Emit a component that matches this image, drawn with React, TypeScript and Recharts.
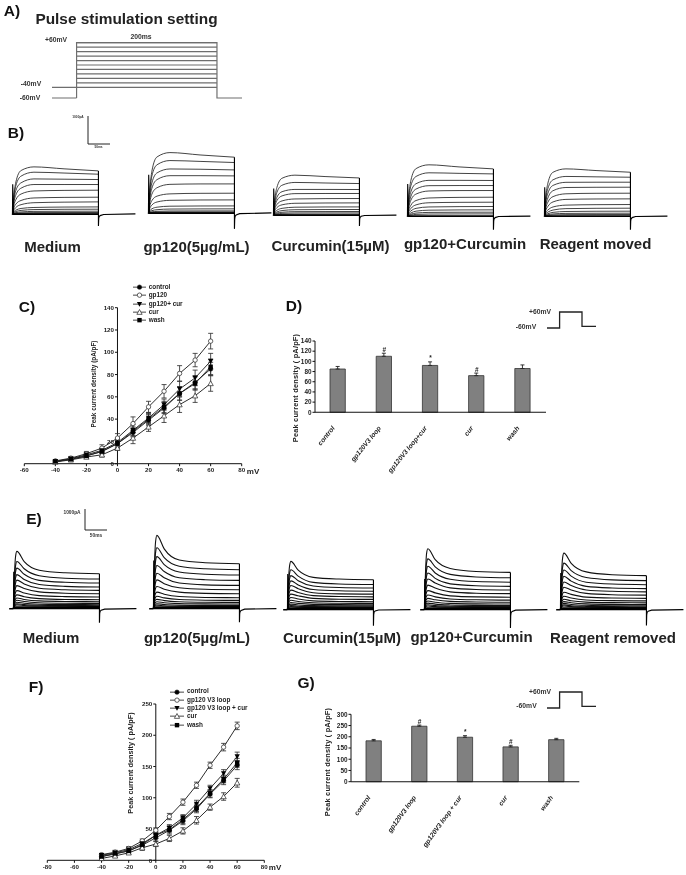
import React from "react";
import {
  ComposedChart, LineChart, Line, Bar, XAxis, YAxis, ErrorBar, Legend, LabelList,
} from "recharts";

const FONT = "'Liberation Sans', Arial, sans-serif";

// ---------- IV curves (panel C) ----------
const VOLTAGES = [-40, -30, -20, -10, 0, 10, 20, 30, 40, 50, 60];
const C_CONTROL = [2, 4, 7, 11, 18, 28, 39, 50, 63, 73, 85];
const C_CONTROL_ERR = [1, 1, 2, 2, 4, 4, 5, 5, 6, 6, 6];
const C_GP120 = [2.5, 5, 9, 14, 23, 36, 51, 65, 81, 93, 110];
const C_GP120_ERR = [1, 1.5, 2, 3, 4, 6, 5, 6, 7, 6, 7];
const C_COMBO = [2, 4.5, 8, 12, 19, 30, 41, 53, 67, 77, 92];
const C_COMBO_ERR = [1, 1, 2, 2, 4, 5, 5, 5, 7, 7, 7];
const C_CUR = [1.5, 3.5, 6, 8, 14, 23, 33, 43, 53, 61, 72];
const C_CUR_ERR = [0.5, 1, 1, 2, 2, 5, 4, 6, 7, 6, 7];
const C_WASH = [2, 4, 7, 11, 18, 29, 40, 51, 63, 72, 87];
const C_WASH_ERR = [1, 1, 1.5, 2, 4, 4, 5, 5, 6, 6, 7];

// ---------- IV curves (panel F) ----------
const F_CONTROL = [6, 10, 15, 24, 36, 48, 63, 82, 106, 127, 152];
const F_CONTROL_ERR = [3, 3, 3, 4, 5, 6, 6, 6, 6, 6, 7];
const F_GP120 = [9, 13, 19, 31, 48, 70, 93, 120, 152, 181, 215];
const F_GP120_ERR = [2, 3, 3, 3, 4, 5, 5, 5, 5, 6, 6];
const F_COMBO = [8, 12, 17, 27, 40, 52, 68, 90, 115, 139, 166];
const F_COMBO_ERR = [3, 3, 3, 4, 5, 5, 5, 6, 5, 6, 7];
const F_CUR = [3, 7, 12, 20, 26, 35, 47, 64, 85, 102, 124];
const F_CUR_ERR = [2, 2, 2, 4, 4, 5, 5, 6, 5, 6, 7];
const F_WASH = [6, 11, 15, 25, 40, 49, 65, 84, 107, 130, 156];
const F_WASH_ERR = [3, 3, 3, 4, 5, 5, 6, 6, 6, 6, 7];

// ---------- bar panels ----------
const D_LABELS = ["control", "gp120V3 loop", "gp120V3 loop+cur", "cur", "wash"];
const D_VALUES = [85, 110, 92, 72, 86];
const D_ERRORS = [5, 6, 7, 5, 7];
const D_MARKS = ["", "#", "*", "#", ""];
const G_LABELS = ["control", "gp120V3 loop", "gp120V3 loop + cur", "cur", "wash"];
const G_VALUES = [182, 247, 198, 155, 187];
const G_ERRORS = [6, 5, 7, 7, 6];
const G_MARKS = ["", "#", "*", "#", ""];

// ---------- pulse protocol ----------
const STEP_LEVELS = [60, 50, 40, 30, 20, 10, 0, -10, -20, -30, -40];
const ENVELOPE = [
  { t: 0, mv: -64 }, { t: 0, mv: 60 }, { t: 200, mv: 60 }, { t: 200, mv: -64 }, { t: 236, mv: -64 },
];
const PRE_HOLD = [{ t: -35, mv: -64 }, { t: 0, mv: -64 }];
const PRE_STEP = [{ t: -35, mv: -40 }, { t: 0, mv: -40 }];
const MINI_PULSE = [
  { t: 0, mv: -60 }, { t: 18, mv: -60 }, { t: 18, mv: 60 }, { t: 50, mv: 60 }, { t: 50, mv: -48 }, { t: 70, mv: -48 },
];

// ---------- current traces, pA against ms ----------
const TB = [0, 3, 8, 20, 50, 120, 200];
const TE = [0, 2, 5, 8, 25, 60, 120, 200];
const TAIL_T = [200, 200, 200.6, 201.5, 204, 212, 286];

const B_MEDIUM = [
  [0, 600, 1150, 1560, 1690, 1620, 1547],
  [0, 550, 1020, 1360, 1500, 1470, 1428],
  [0, 470, 850, 1120, 1260, 1250, 1238],
  [0, 390, 690, 930, 1060, 1060, 1060],
  [0, 300, 520, 720, 830, 850, 857],
  [0, 210, 360, 490, 580, 600, 607],
  [0, 140, 240, 340, 410, 430, 440],
  [0, 90, 145, 205, 240, 255, 260],
  [0, 60, 95, 135, 165, 175, 178],
  [0, 35, 55, 80, 100, 105, 107],
  [0, 20, 32, 46, 55, 58, 60],
  [0, 12, 18, 26, 32, 35, 36],
];
const B_GP120 = [
  [0, 780, 1500, 2010, 2165, 2080, 2000],
  [0, 700, 1330, 1730, 1880, 1850, 1810],
  [0, 570, 1080, 1440, 1580, 1570, 1546],
  [0, 480, 890, 1200, 1340, 1340, 1332],
  [0, 370, 680, 910, 1030, 1045, 1046],
  [0, 250, 450, 610, 690, 710, 714],
  [0, 165, 290, 400, 460, 472, 475],
  [0, 90, 155, 215, 250, 258, 260],
  [0, 55, 90, 125, 148, 153, 155],
  [0, 30, 48, 66, 78, 81, 82],
  [0, 16, 28, 37, 44, 45, 46],
  [0, 9, 15, 20, 23, 24, 25],
];
const B_CUR = [
  [0, 540, 990, 1320, 1430, 1380, 1330],
  [0, 450, 810, 1070, 1170, 1150, 1130],
  [0, 350, 640, 840, 920, 920, 917],
  [0, 290, 520, 690, 770, 775, 775],
  [0, 220, 380, 510, 580, 592, 596],
  [0, 155, 270, 370, 425, 436, 440],
  [0, 105, 175, 245, 285, 294, 296],
  [0, 70, 115, 165, 195, 201, 203],
  [0, 45, 75, 105, 126, 130, 132],
  [0, 27, 45, 66, 78, 81, 82],
  [0, 12, 20, 28, 34, 35, 36],
];
const B_COMBO = [
  [0, 690, 1280, 1700, 1835, 1760, 1690],
  [0, 590, 1090, 1420, 1550, 1530, 1510],
  [0, 470, 870, 1160, 1280, 1280, 1275],
  [0, 390, 710, 970, 1090, 1095, 1095],
  [0, 310, 570, 790, 900, 915, 917],
  [0, 220, 390, 560, 650, 672, 678],
  [0, 155, 275, 405, 480, 495, 500],
  [0, 105, 185, 280, 330, 342, 346],
  [0, 65, 115, 180, 215, 224, 226],
  [0, 40, 70, 112, 135, 141, 143],
  [0, 22, 40, 64, 77, 81, 82],
];
const B_WASH = [
  [0, 650, 1180, 1570, 1690, 1630, 1570],
  [0, 560, 990, 1300, 1420, 1405, 1392],
  [0, 470, 820, 1100, 1210, 1214, 1214],
  [0, 370, 650, 910, 1025, 1033, 1035],
  [0, 280, 500, 700, 800, 818, 821],
  [0, 200, 350, 510, 600, 615, 619],
  [0, 130, 220, 330, 395, 412, 417],
  [0, 85, 145, 220, 270, 282, 286],
  [0, 52, 88, 137, 168, 177, 179],
  [0, 30, 52, 80, 100, 105, 107],
  [0, 17, 30, 45, 56, 59, 60],
];
const E_MEDIUM = [
  [0, 1400, 2500, 2730, 2240, 1830, 1710, 1666],
  [0, 1150, 2050, 2250, 1900, 1570, 1450, 1413],
  [0, 1000, 1760, 1930, 1640, 1350, 1260, 1223],
  [0, 850, 1480, 1620, 1390, 1150, 1065, 1033],
  [0, 720, 1230, 1360, 1180, 970, 900, 871],
  [0, 600, 1000, 1100, 960, 800, 735, 714],
  [0, 480, 780, 860, 750, 620, 575, 557],
  [0, 380, 610, 660, 570, 480, 440, 428],
  [0, 300, 470, 510, 440, 370, 342, 333],
  [0, 240, 370, 400, 340, 285, 260, 252],
  [0, 190, 290, 310, 260, 215, 197, 190],
  [0, 150, 220, 235, 195, 165, 150, 143],
  [0, 120, 170, 180, 150, 125, 115, 110],
];
const E_GP120 = [
  [0, 1800, 3200, 3490, 2850, 2320, 2190, 2140],
  [0, 1500, 2680, 2900, 2430, 2020, 1900, 1857],
  [0, 1280, 2280, 2480, 2100, 1750, 1640, 1603],
  [0, 1080, 1900, 2060, 1770, 1470, 1380, 1348],
  [0, 900, 1550, 1690, 1470, 1220, 1135, 1110],
  [0, 750, 1260, 1370, 1190, 995, 925, 905],
  [0, 600, 980, 1060, 930, 790, 730, 714],
  [0, 460, 730, 790, 690, 580, 535, 524],
  [0, 350, 550, 590, 515, 435, 405, 395],
  [0, 270, 420, 445, 385, 330, 305, 300],
  [0, 210, 310, 330, 285, 245, 228, 224],
  [0, 150, 220, 235, 200, 172, 160, 157],
  [0, 110, 160, 170, 140, 120, 112, 110],
];
const E_CUR = [
  [0, 1180, 2100, 2300, 1880, 1540, 1460, 1428],
  [0, 980, 1740, 1900, 1600, 1300, 1225, 1200],
  [0, 850, 1480, 1620, 1380, 1130, 1055, 1030],
  [0, 730, 1260, 1370, 1180, 960, 900, 880],
  [0, 620, 1060, 1150, 1000, 810, 755, 740],
  [0, 520, 860, 930, 820, 670, 625, 610],
  [0, 430, 690, 740, 660, 540, 500, 490],
  [0, 340, 540, 580, 510, 420, 390, 380],
  [0, 270, 420, 450, 390, 330, 305, 300],
  [0, 215, 325, 345, 300, 255, 240, 235],
  [0, 170, 250, 265, 225, 195, 183, 180],
  [0, 130, 190, 200, 165, 145, 137, 135],
  [0, 100, 140, 150, 122, 108, 102, 100],
];
const E_COMBO = [
  [0, 1500, 2680, 2900, 2380, 1960, 1820, 1777],
  [0, 1260, 2230, 2420, 2040, 1680, 1560, 1520],
  [0, 1080, 1900, 2070, 1750, 1450, 1340, 1310],
  [0, 920, 1610, 1750, 1490, 1230, 1140, 1110],
  [0, 780, 1340, 1460, 1270, 1040, 965, 940],
  [0, 640, 1070, 1170, 1030, 850, 785, 765],
  [0, 520, 840, 910, 800, 660, 610, 595],
  [0, 410, 650, 700, 610, 510, 470, 455],
  [0, 320, 500, 540, 470, 395, 365, 355],
  [0, 250, 390, 415, 355, 300, 275, 268],
  [0, 195, 295, 315, 265, 225, 205, 198],
  [0, 150, 220, 235, 195, 165, 152, 148],
  [0, 115, 165, 175, 145, 122, 112, 108],
];
const E_WASH = [
  [0, 1380, 2470, 2695, 2210, 1800, 1665, 1620],
  [0, 1140, 2030, 2220, 1860, 1530, 1420, 1385],
  [0, 980, 1730, 1890, 1600, 1310, 1220, 1190],
  [0, 830, 1450, 1590, 1360, 1110, 1035, 1005],
  [0, 700, 1200, 1320, 1150, 940, 875, 850],
  [0, 580, 970, 1070, 935, 775, 715, 695],
  [0, 470, 760, 830, 730, 600, 555, 540],
  [0, 370, 590, 640, 555, 465, 430, 418],
  [0, 290, 455, 495, 425, 360, 335, 325],
  [0, 235, 360, 385, 330, 275, 252, 245],
  [0, 185, 280, 300, 250, 208, 190, 185],
  [0, 145, 215, 228, 188, 160, 145, 140],
  [0, 115, 165, 175, 145, 120, 110, 105],
];

const B_TAILS = [
  [1547, -418, -150, -90, -50, -10, 10],
  [2000, -560, -210, -110, -60, -15, 10],
  [1330, -385, -130, -80, -40, -10, 0],
  [1690, -480, -170, -100, -50, -10, 0],
  [1570, -480, -170, -100, -50, -10, 0],
];
const E_TAILS = [
  [1666, -667, -230, -130, -70, -20, 0],
  [2140, -640, -240, -140, -80, -20, 0],
  [1428, -760, -240, -120, -60, -15, 0],
  [1777, -876, -280, -140, -80, -20, 0],
  [1620, -750, -250, -130, -70, -20, 0],
];
const B_SPIKES = [1070, 1370, 950, 1150, 1030];
const E_SPIKES = [1760, 2290, 1700, 1460, 1750];
const B_STARTS = [12, 148, 273, 407.3, 544];
const B_BASE = [214, 213.3, 215, 215.7, 215.7];
const E_STARTS = [13.3, 153.7, 287.3, 424.7, 560.7];
const E_BASE = [609, 608.3, 610, 609.3, 609.3];
const B_TABLES = [B_MEDIUM, B_GP120, B_CUR, B_COMBO, B_WASH];
const E_TABLES = [E_MEDIUM, E_GP120, E_CUR, E_COMBO, E_WASH];
const SCALE_BAR = [{ t: 0, i: 1000 }, { t: 0, i: 0 }, { t: 50, i: 0 }];

const pairs = (ts: number[], vs: number[]) => ts.map((t, k) => ({ t, i: vs[k] }));

const Txt = ({ x, y, size, children, rot = 0, bold = true, color = "#111", spacing = 0 }: any) => (
  <div
    style={{
      position: "absolute", left: x, top: y, fontSize: size, fontWeight: bold ? 700 : 400, color,
      fontFamily: FONT, whiteSpace: "nowrap", lineHeight: 1, letterSpacing: spacing,
      transform: `translate(-50%,-50%) rotate(${rot}deg)`,
    }}
  >
    {children}
  </div>
);

const Traces = ({ left, base, table, times, tail, spike, pxPerPA, hi, lo, pre, stroke, sw, floorW, floorV }: any) => {
  const pxPerMs = 0.43;
  const tMin = -15;
  const tMax = 290;
  const width = (tMax - tMin) * pxPerMs;
  const height = (hi - lo) * pxPerPA;
  const hold = [{ t: pre, i: 0 }, { t: 0, i: 0 }];
  const floor = [{ t: 0, i: floorV }, { t: 200, i: floorV }];
  const spikeRows = [{ t: 0, i: 0 }, { t: 0.6, i: spike }, { t: 1.6, i: spike * 0.6 }, { t: 2.4, i: 0 }];
  return (
    <div style={{ position: "absolute", left: left + tMin * pxPerMs, top: base - hi * pxPerPA }}>
      <LineChart width={width} height={height} margin={{ top: 0, right: 0, bottom: 0, left: 0 }}>
        <XAxis dataKey="t" type="number" domain={[tMin, tMax]} hide allowDataOverflow />
        <YAxis type="number" domain={[lo, hi]} hide allowDataOverflow />
        {pre < 0 && <Line data={hold} dataKey="i" stroke="#000" strokeWidth={1.6} dot={false} isAnimationActive={false} />}
        {table.map((vals: number[], k: number) => (
          <Line key={k} data={pairs(times, vals)} dataKey="i" type="monotone" stroke={stroke} strokeWidth={sw}
            dot={false} isAnimationActive={false} />
        ))}
        <Line data={floor} dataKey="i" stroke="#000" strokeWidth={floorW} dot={false} isAnimationActive={false} />
        <Line data={spikeRows} dataKey="i" stroke="#000" strokeWidth={1.1} dot={false} isAnimationActive={false} />
        <Line data={pairs(TAIL_T, tail)} dataKey="i" stroke="#000" strokeWidth={1.15} dot={false} isAnimationActive={false} />
      </LineChart>
    </div>
  );
};

const ScaleBar = ({ left, top, pxPerPA, sw = 1 }: any) => (
  <div style={{ position: "absolute", left: left - 1, top: top - 1 }}>
    <LineChart width={24} height={1000 * pxPerPA + 2} margin={{ top: 1, right: 1, bottom: 1, left: 1 }}>
      <XAxis dataKey="t" type="number" domain={[0, 50]} hide />
      <YAxis type="number" domain={[0, 1000]} hide />
      <Line data={SCALE_BAR} dataKey="i" stroke="#222" strokeWidth={sw} dot={false} isAnimationActive={false} />
    </LineChart>
  </div>
);

const MiniPulse = ({ left, top }: any) => (
  <div style={{ position: "absolute", left, top }}>
    <LineChart width={49} height={18} margin={{ top: 1, right: 0, bottom: 1, left: 0 }}>
      <XAxis dataKey="t" type="number" domain={[0, 70]} hide />
      <YAxis type="number" domain={[-60, 60]} hide />
      <Line data={MINI_PULSE} dataKey="mv" stroke="#222" strokeWidth={1.3} dot={false} isAnimationActive={false} />
    </LineChart>
  </div>
);

const Protocol = () => {
  const pxPerMs = 0.702;
  const top = 40;
  const bottom = 102;
  const pxPerMv = 0.446;
  const hi = 60 + (42.7 - top) / pxPerMv;
  const lo = 60 - (bottom - 42.7) / pxPerMv;
  const tMin = -35;
  const tMax = 236;
  const rows = (lvl: number) => [{ t: 0, mv: lvl }, { t: 200, mv: lvl }];
  return (
    <div style={{ position: "absolute", left: 76.3 + tMin * pxPerMs, top }}>
      <LineChart width={(tMax - tMin) * pxPerMs} height={bottom - top} margin={{ top: 0, right: 0, bottom: 0, left: 0 }}>
        <XAxis dataKey="t" type="number" domain={[tMin, tMax]} hide />
        <YAxis type="number" domain={[lo, hi]} hide allowDataOverflow />
        {STEP_LEVELS.map((l) => (
          <Line key={l} data={rows(l)} dataKey="mv" stroke="#6e6e6e" strokeWidth={1.2} dot={false} isAnimationActive={false} />
        ))}
        <Line data={PRE_STEP} dataKey="mv" stroke="#6e6e6e" strokeWidth={1.2} dot={false} isAnimationActive={false} />
        <Line data={PRE_HOLD} dataKey="mv" stroke="#6e6e6e" strokeWidth={1.2} dot={false} isAnimationActive={false} />
        <Line data={ENVELOPE} dataKey="mv" stroke="#6e6e6e" strokeWidth={1.2} dot={false} isAnimationActive={false} />
      </LineChart>
    </div>
  );
};

const makeDot = (kind: string, r: number) => (p: any) => {
  const { cx, cy } = p;
  const key = `${kind}-${cx}`;
  if (cx == null || cy == null) return <g key={key} />;
  const stroke = "#222";
  if (kind === "fc") return <circle key={key} cx={cx} cy={cy} r={r} fill="#000" stroke={stroke} strokeWidth={0.6} />;
  if (kind === "oc") return <circle key={key} cx={cx} cy={cy} r={r} fill="#fff" stroke={stroke} strokeWidth={0.7} />;
  if (kind === "ft")
    return <path key={key} d={`M${cx - r * 1.2} ${cy - r}L${cx + r * 1.2} ${cy - r}L${cx} ${cy + r * 1.2}Z`} fill="#000" />;
  if (kind === "ot")
    return <path key={key} d={`M${cx - r * 1.2} ${cy + r}L${cx + r * 1.2} ${cy + r}L${cx} ${cy - r * 1.2}Z`} fill="#fff" stroke={stroke} strokeWidth={0.7} />;
  return <rect key={key} x={cx - r} y={cy - r} width={2 * r} height={2 * r} fill="#000" />;
};

const SERIES_KEYS = ["control", "gp120", "combo", "cur", "wash"];
const SERIES_DOTS = ["fc", "oc", "ft", "ot", "fs"];
const C_NAMES = ["control", "gp120", "gp120+ cur", "cur", "wash"];
const F_NAMES = ["control", "gp120 V3 loop", "gp120 V3 loop + cur", "cur", "wash"];

const ivTable = (cols: number[][], errs: number[][]) =>
  VOLTAGES.map((v, k) => {
    const row: any = { v };
    SERIES_KEYS.forEach((s, j) => {
      row[s] = cols[j][k];
      row[s + "Err"] = errs[j][k];
    });
    return row;
  });

const IVPanel = ({ box, plot, xDomain, xTicks, yMax, yTicks, names, cols, errs, legend, r, cap }: any) => {
  const data = ivTable(cols, errs);
  const margin = {
    left: plot.l - box.l,
    right: box.l + box.w - plot.r,
    top: plot.t - box.t,
    bottom: box.t + box.h - plot.b,
  };
  const tick = { fontSize: 6.2, fontWeight: 700, fill: "#222", fontFamily: FONT };
  const x0 = plot.l + ((0 - xDomain[0]) / (xDomain[1] - xDomain[0])) * (plot.r - plot.l);
  const pos: any = { position: "absolute", left: box.l, top: box.t };
  return (
    <>
      <div style={pos}>
        <ComposedChart width={box.w} height={box.h} data={data}
          margin={{ left: x0 - box.l - 20, right: margin.right, top: margin.top, bottom: margin.bottom }}>
          <XAxis dataKey="v" type="number" domain={xDomain} hide />
          <YAxis width={20} type="number" domain={[0, yMax]} ticks={yTicks} tick={tick} tickSize={2.5} tickMargin={1}
            axisLine={{ stroke: "#111", strokeWidth: 1 }} tickLine={{ stroke: "#111" }} interval={0} />
          <Line dataKey="control" stroke="none" dot={false} activeDot={false} isAnimationActive={false} />
        </ComposedChart>
      </div>
      <div style={pos}>
        <ComposedChart width={box.w} height={box.h} data={data}
          margin={{ left: margin.left, right: margin.right, top: margin.top, bottom: 0 }}>
          <XAxis dataKey="v" type="number" domain={xDomain} ticks={xTicks} height={margin.bottom} tick={tick} tickSize={2.5}
            tickMargin={1.5} axisLine={{ stroke: "#111", strokeWidth: 1 }} tickLine={{ stroke: "#111" }} interval={0} />
          <YAxis type="number" domain={[0, yMax]} hide />
          {SERIES_KEYS.map((s, j) => (
            <Line key={s} dataKey={s} name={names[j]} stroke="#222" strokeWidth={0.95} isAnimationActive={false}
              dot={makeDot(SERIES_DOTS[j], r)} activeDot={false}>
              <ErrorBar dataKey={s + "Err"} width={cap} stroke="#333" strokeWidth={0.85} direction="y" isAnimationActive={false} />
            </Line>
          ))}
          <Legend layout="vertical" align="center" verticalAlign="middle" itemSorter={null as any}
            wrapperStyle={{ left: legend.x - box.l, top: legend.y - box.t, width: 100, margin: 0, padding: 0 }}
            content={(props: any) => (
              <div>
                {(props.payload || []).map((e: any, j: number) => {
                  const Dot = makeDot(SERIES_DOTS[j], r);
                  return (
                    <div key={j} style={{ height: legend.row, display: "flex", alignItems: "center" }}>
                      <svg width={legend.lw} height={legend.row} style={{ overflow: "visible", flex: "none" }}>
                        <line x1={0} x2={legend.lw} y1={legend.row / 2} y2={legend.row / 2} stroke="#333" strokeWidth={0.9} />
                        {Dot({ cx: legend.lw / 2, cy: legend.row / 2 })}
                      </svg>
                      <span style={{ marginLeft: 3, fontSize: 6.4, fontWeight: 700, fontFamily: FONT, color: "#222", whiteSpace: "nowrap", lineHeight: 1 }}>
                        {e.value}
                      </span>
                    </div>
                  );
                })}
              </div>
            )} />
        </ComposedChart>
      </div>
    </>
  );
};

const makeRotTick = (angle: number) => ({ x, y, payload }: any) => (
  <text x={x - 3} y={y + 8} transform={`rotate(${angle} ${x - 3} ${y + 8})`} textAnchor="end" fontSize={6.7} fontWeight={700}
    fill="#222" fontFamily={FONT} fontStyle="italic">
    {payload.value}
  </text>
);

const BAR_EDGES = [0, 1, 2, 3, 4, 5];
const EDGE_ROWS = [{ e: 0 }, { e: 5 }];

const BarPanel = ({ box, plot, labels, values, errors, marks, yMax, yTicks, angle }: any) => {
  const data = labels.map((name: string, k: number) => ({
    name, value: values[k], err: errors[k], top: values[k] + errors[k], mark: marks[k],
  }));
  const left = plot.l - box.l;
  const right = box.l + box.w - plot.r;
  const top = plot.t - box.t;
  const bottom = box.t + box.h - plot.b;
  const pos: any = { position: "absolute", left: box.l, top: box.t };
  const RotTick = makeRotTick(angle);
  return (
    <>
      <div style={pos}>
        <ComposedChart width={box.w} height={box.h} data={EDGE_ROWS} margin={{ left, right, top, bottom: bottom - 4 }}>
          <XAxis dataKey="e" type="number" domain={[0, 5]} ticks={BAR_EDGES} height={4} tick={false} tickSize={2.5}
            axisLine={false} tickLine={{ stroke: "#111" }} interval={0} />
          <YAxis type="number" domain={[0, 1]} hide />
          <Line dataKey="e" stroke="none" dot={false} activeDot={false} isAnimationActive={false} />
        </ComposedChart>
      </div>
      <div style={pos}>
        <ComposedChart width={box.w} height={box.h} data={data} margin={{ left: left - 22, right, top, bottom: 0 }}>
          <XAxis dataKey="name" height={bottom} interval={0} tickLine={false} tick={<RotTick />}
            axisLine={{ stroke: "#111", strokeWidth: 1.1 }} />
          <YAxis width={22} type="number" domain={[0, yMax]} ticks={yTicks} interval={0} tickSize={2.5} tickMargin={1}
            tick={{ fontSize: 6.4, fontWeight: 700, fill: "#222", fontFamily: FONT }}
            axisLine={{ stroke: "#111", strokeWidth: 1 }} tickLine={{ stroke: "#111" }} />
          <Bar dataKey="value" barSize={15.3} fill="#808080" stroke="#333" strokeWidth={0.8} isAnimationActive={false}>
            <ErrorBar dataKey={(d: any) => [0, d.err]} width={2} stroke="#222" strokeWidth={0.9} direction="y" isAnimationActive={false} />
          </Bar>
          <Line dataKey="top" stroke="none" dot={false} activeDot={false} isAnimationActive={false}>
            <LabelList dataKey="mark" position="top" offset={1.5} fontSize={6.5} fontWeight={700} fill="#222" fontFamily={FONT} />
          </Line>
        </ComposedChart>
      </div>
    </>
  );
};

export default function App() {
  return (
    <div style={{ position: "absolute", left: 0, top: 0, width: 686, height: 875, background: "#fff", overflow: "hidden", fontFamily: FONT, filter: "blur(0.3px)" }}>
      {/* Panel letters */}
      <Txt x={12} y={11} size={15.5}>A)</Txt>
      <Txt x={16} y={133} size={15.5}>B)</Txt>
      <Txt x={27} y={307} size={15.5}>C)</Txt>
      <Txt x={294} y={306} size={15.5}>D)</Txt>
      <Txt x={34} y={519} size={15.5}>E)</Txt>
      <Txt x={36} y={687} size={15.5}>F)</Txt>
      <Txt x={306} y={683} size={15.5}>G)</Txt>

      {/* A */}
      <Txt x={126.5} y={19} size={15.4} color="#222">Pulse stimulation setting</Txt>
      <Protocol />
      <Txt x={56} y={40} size={6.8} color="#333">+60mV</Txt>
      <Txt x={141} y={37} size={6.8} color="#333">200ms</Txt>
      <Txt x={31} y={84} size={6.8} color="#333">-40mV</Txt>
      <Txt x={30} y={98} size={6.8} color="#333">-60mV</Txt>

      {/* B */}
      <ScaleBar left={87.7} top={116} pxPerPA={0.028} />
      <Txt x={78} y={118} size={3.2} color="#333">1000pA</Txt>
      <Txt x={98.5} y={148} size={3.2} color="#333">50ms</Txt>
      {B_TABLES.map((table, k) => (
        <Traces key={k} left={B_STARTS[k]} base={B_BASE[k]} table={table} times={TB} tail={B_TAILS[k]} spike={B_SPIKES[k]}
          pxPerPA={0.028} hi={2400} lo={-800} pre={0} stroke="#222" sw={0.85} floorW={1.8} floorV={0} />
      ))}
      <Txt x={52.5} y={246} size={15} color="#222">Medium</Txt>
      <Txt x={196.5} y={246} size={15} color="#222">gp120(5µg/mL)</Txt>
      <Txt x={330.5} y={245} size={15} color="#222">Curcumin(15µM)</Txt>
      <Txt x={465} y={243} size={15} color="#222">gp120+Curcumin</Txt>
      <Txt x={595.5} y={243} size={15} color="#222">Reagent moved</Txt>

      {/* C */}
      <IVPanel box={{ l: 0, t: 280, w: 260, h: 200 }} plot={{ l: 24.3, r: 241.7, t: 307.7, b: 463.7 }}
        xDomain={[-60, 80]} xTicks={[-60, -40, -20, 0, 20, 40, 60, 80]} yMax={140}
        yTicks={[0, 20, 40, 60, 80, 100, 120, 140]} names={C_NAMES}
        cols={[C_CONTROL, C_GP120, C_COMBO, C_CUR, C_WASH]}
        errs={[C_CONTROL_ERR, C_GP120_ERR, C_COMBO_ERR, C_CUR_ERR, C_WASH_ERR]}
        legend={{ x: 132.7, y: 283, row: 8.3, lw: 13 }} r={2.2} cap={2.5} />
      <Txt x={93.5} y={384} size={6.4} rot={-90} color="#222">Peak current density (pA/pF)</Txt>
      <Txt x={253} y={472} size={8} color="#222">mV</Txt>

      {/* D */}
      <BarPanel box={{ l: 280, t: 330, w: 290, h: 160 }} plot={{ l: 315, r: 546, t: 341, b: 412.3 }} angle={-51}
        labels={D_LABELS} values={D_VALUES} errors={D_ERRORS} marks={D_MARKS} yMax={140}
        yTicks={[0, 20, 40, 60, 80, 100, 120, 140]} />
      <Txt x={296} y={388} size={7.4} rot={-90} color="#222" spacing={0.2}>Peak current density ( pA/pF)</Txt>
      <MiniPulse left={546.7} top={311} />
      <Txt x={540} y={312} size={6.8} color="#333">+60mV</Txt>
      <Txt x={526} y={327} size={6.8} color="#333">-60mV</Txt>

      {/* E */}
      <ScaleBar left={85.3} top={509} pxPerPA={0.021} />
      <Txt x={72} y={513} size={4.8} color="#333">1000pA</Txt>
      <Txt x={96} y={536} size={4.8} color="#333">50ms</Txt>
      {E_TABLES.map((table, k) => (
        <Traces key={k} left={E_STARTS[k]} base={E_BASE[k]} table={table} times={TE} tail={E_TAILS[k]} spike={E_SPIKES[k]}
          pxPerPA={0.021} hi={3700} lo={-1000} pre={-10} stroke="#111" sw={1.1} floorW={3} floorV={45} />
      ))}
      <Txt x={51} y={637} size={15} color="#222">Medium</Txt>
      <Txt x={197} y={637} size={15} color="#222">gp120(5µg/mL)</Txt>
      <Txt x={342} y={637} size={15} color="#222">Curcumin(15µM)</Txt>
      <Txt x={471.5} y={636} size={15} color="#222">gp120+Curcumin</Txt>
      <Txt x={613} y={637} size={15} color="#222">Reagent removed</Txt>

      {/* F */}
      <IVPanel box={{ l: 0, t: 690, w: 290, h: 185 }} plot={{ l: 47.3, r: 264.3, t: 704, b: 860.3 }}
        xDomain={[-80, 80]} xTicks={[-80, -60, -40, -20, 0, 20, 40, 60, 80]} yMax={250}
        yTicks={[0, 50, 100, 150, 200, 250]} names={F_NAMES}
        cols={[F_CONTROL, F_GP120, F_COMBO, F_CUR, F_WASH]}
        errs={[F_CONTROL_ERR, F_GP120_ERR, F_COMBO_ERR, F_CUR_ERR, F_WASH_ERR]}
        legend={{ x: 170, y: 687.5, row: 8.3, lw: 14 }} r={2.2} cap={2.5} />
      <Txt x={130.7} y={762.5} size={7.3} rot={-90} color="#222">Peak current density ( pA/pF)</Txt>
      <Txt x={275} y={868} size={8} color="#222">mV</Txt>

      {/* G */}
      <BarPanel box={{ l: 320, t: 705, w: 270, h: 170 }} plot={{ l: 351, r: 579.3, t: 714.3, b: 781.7 }} angle={-54}
        labels={G_LABELS} values={G_VALUES} errors={G_ERRORS} marks={G_MARKS} yMax={300}
        yTicks={[0, 50, 100, 150, 200, 250, 300]} />
      <Txt x={328} y={762} size={7.4} rot={-90} color="#222" spacing={0.2}>Peak current density ( pA/pF)</Txt>
      <MiniPulse left={546.7} top={690.5} />
      <Txt x={540} y={692} size={6.8} color="#333">+60mV</Txt>
      <Txt x={526.5} y={706} size={6.8} color="#333">-60mV</Txt>
    </div>
  );
}
